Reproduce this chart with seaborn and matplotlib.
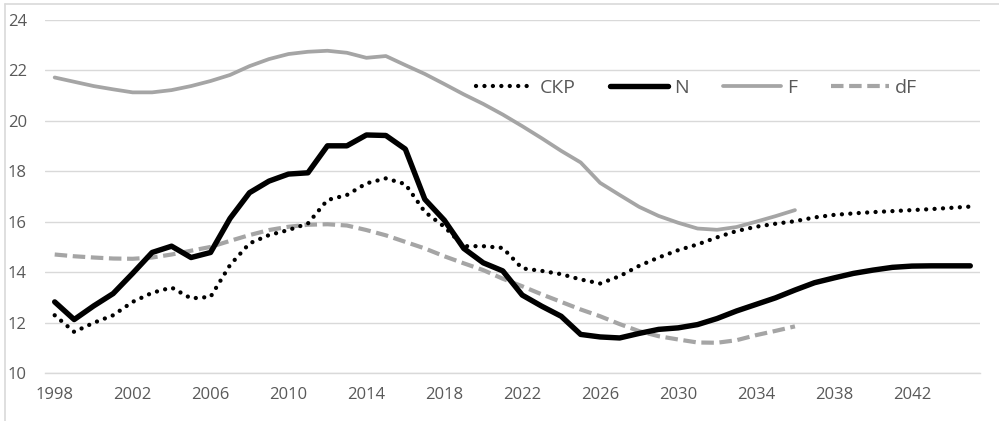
import matplotlib
matplotlib.use("Agg")
import matplotlib.pyplot as plt
from matplotlib.lines import Line2D
import seaborn as sns

# ---------------------------------------------------------------------------
# Data
# ---------------------------------------------------------------------------
years_long = list(range(1998, 2046))     # СКР and N run to 2045
years_short = list(range(1998, 2037))    # F and dF stop at 2036

skr = [
    12.29, 11.63, 11.99, 12.29, 12.82, 13.18, 13.39, 12.96, 13.02, 14.28,
    15.14, 15.47, 15.67, 15.93, 16.86, 17.06, 17.52, 17.72, 17.49, 16.39,
    15.80, 15.03, 15.03, 14.96, 14.15, 14.05, 13.92, 13.71, 13.55, 13.84,
    14.25, 14.58, 14.87, 15.10, 15.38, 15.63, 15.80, 15.92, 16.02, 16.17,
    16.27, 16.33, 16.38, 16.42, 16.46, 16.50, 16.55, 16.60,
]

n_vals = [
    12.82, 12.12, 12.66, 13.15, 13.95, 14.78, 15.03, 14.58, 14.78, 16.13,
    17.15, 17.61, 17.89, 17.94, 19.01, 19.01, 19.44, 19.42, 18.88, 16.89,
    16.06, 14.94, 14.37, 14.05, 13.09, 12.65, 12.25, 11.53, 11.43, 11.39,
    11.57, 11.73, 11.79, 11.92, 12.16, 12.46, 12.72, 12.98, 13.29, 13.58,
    13.77, 13.95, 14.08, 14.19, 14.24, 14.25, 14.25, 14.25,
]

f_vals = [
    21.72, 21.55, 21.38, 21.25, 21.13, 21.13, 21.22, 21.38, 21.58, 21.82,
    22.17, 22.45, 22.65, 22.74, 22.78, 22.70, 22.50, 22.57, 22.21, 21.86,
    21.46, 21.05, 20.67, 20.25, 19.79, 19.31, 18.81, 18.35, 17.54, 17.06,
    16.59, 16.23, 15.96, 15.73, 15.68, 15.79, 16.00, 16.22, 16.46,
]

df_vals = [
    14.70, 14.63, 14.58, 14.54, 14.53, 14.58, 14.70, 14.85, 15.00, 15.24,
    15.47, 15.67, 15.80, 15.88, 15.90, 15.85, 15.67, 15.46, 15.20, 14.94,
    14.63, 14.35, 14.08, 13.74, 13.44, 13.12, 12.82, 12.52, 12.25, 11.94,
    11.66, 11.46, 11.33, 11.21, 11.20, 11.30, 11.50, 11.67, 11.85,
]

tick_years = list(range(1998, 2043, 4))
y_ticks = [10, 12, 14, 16, 18, 20, 22, 24]

GRID = "#D9D9D9"
TEXT = "#595959"
GRAY = "#A5A5A5"

sns.set_style("white")
plt.rcParams["font.family"] = ["Open Sans", "DejaVu Sans"]

fig = plt.figure(figsize=(9.99, 4.21), dpi=100)
fig.patch.set_facecolor("white")
ax = fig.add_axes([0.045, 0.114, 0.936, 0.8385])

# chart-area border (only top and left survive the crop in the reference)
fig.add_artist(Line2D([5 / 999, 1.0], [1 - 4 / 421, 1 - 4 / 421],
                      transform=fig.transFigure, color=GRID, linewidth=1.2))
fig.add_artist(Line2D([5 / 999, 5 / 999], [0.0, 1 - 4 / 421],
                      transform=fig.transFigure, color=GRID, linewidth=1.2))

sns.lineplot(x=years_long, y=skr, ax=ax, color="black", linewidth=3.1,
             label="СКР", zorder=3)
ax.lines[-1].set_linestyle((0, (0.01, 1.95)))
ax.lines[-1].set_dash_capstyle("round")

sns.lineplot(x=years_long, y=n_vals, ax=ax, color="black", linewidth=3.9,
             label="N", zorder=4)
sns.lineplot(x=years_short, y=f_vals, ax=ax, color=GRAY, linewidth=2.7,
             label="F", zorder=2)
sns.lineplot(x=years_short, y=df_vals, ax=ax, color=GRAY, linewidth=3.0,
             label="dF", zorder=2)
ax.lines[-1].set_linestyle((0, (3.0, 1.35)))
for ln in ax.lines:
    ln.set_solid_capstyle("round")

ax.set_xlim(1997.5, 2045.5)
ax.set_ylim(10, 24)
ax.set_xticks(tick_years)
ax.set_xticklabels([str(y) for y in tick_years])
ax.set_yticks(y_ticks)
ax.tick_params(axis="both", length=0, labelsize=12, colors=TEXT)
ax.tick_params(axis="x", pad=10)
ax.tick_params(axis="y", pad=13)
ax.set_xlabel("")
ax.set_ylabel("")

ax.yaxis.grid(True, color=GRID, linewidth=1.0)
ax.xaxis.grid(False)
for side in ["top", "right", "left"]:
    ax.spines[side].set_visible(False)
ax.spines["bottom"].set_color(GRID)
ax.spines["bottom"].set_linewidth(1.0)
ax.set_axisbelow(True)

ax.legend(loc="center", bbox_to_anchor=(0.697, 0.807), ncol=4,
          frameon=False, fontsize=14, handlelength=3.0,
          handletextpad=0.3, columnspacing=1.75, labelcolor=TEXT)

fig.savefig("out.png", dpi=100, facecolor="white")
